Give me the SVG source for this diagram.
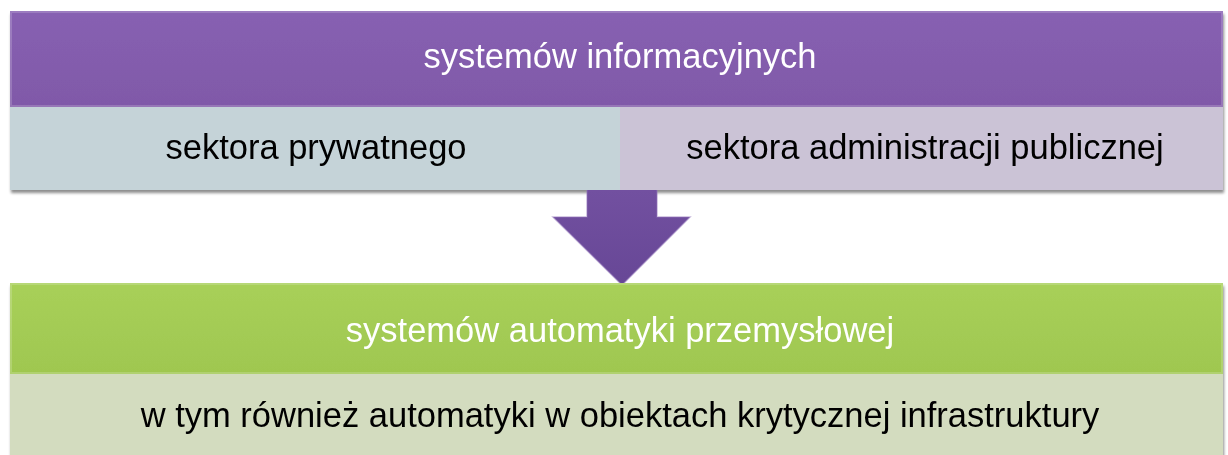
<svg xmlns="http://www.w3.org/2000/svg" width="1228" height="455" viewBox="0 0 1228 455">
  <defs>
    <filter id="shadow" x="-2%" y="-10%" width="104%" height="130%">
      <feGaussianBlur in="SourceAlpha" stdDeviation="1.5"/>
      <feOffset dx="1" dy="3"/>
      <feComponentTransfer><feFuncA type="linear" slope="0.45"/></feComponentTransfer>
      <feMerge><feMergeNode/><feMergeNode in="SourceGraphic"/></feMerge>
    </filter>
    <linearGradient id="purpleFill" x1="0" y1="0" x2="0" y2="1">
      <stop offset="0" stop-color="#8760B2"/>
      <stop offset="1" stop-color="#8059A8"/>
    </linearGradient>
    <linearGradient id="greenFill" x1="0" y1="0" x2="0" y2="1">
      <stop offset="0" stop-color="#A8D059"/>
      <stop offset="1" stop-color="#9FC750"/>
    </linearGradient>
    <linearGradient id="arrowFill" x1="0" y1="0" x2="0" y2="1">
      <stop offset="0" stop-color="#7250A0"/>
      <stop offset="1" stop-color="#674796"/>
    </linearGradient>
  </defs>
  <style>
    text { font-family: "Liberation Sans", Arial, sans-serif; text-anchor: middle; font-size: 34.5px; }
    .head { fill: #FFFFFF; }
    .body { fill: #000000; }
    .bevel { fill: none; stroke: #FFFFFF; stroke-opacity: 0.18; stroke-width: 2; }
  </style>

  <!-- upper block: information systems -->
  <g id="top-block" filter="url(#shadow)">
    <g id="info-systems">
      <rect x="10" y="11" width="1213" height="96" fill="url(#purpleFill)"/>
      <rect class="bevel" x="11" y="12" width="1211" height="94"/>
      <text class="head" x="620" y="68">systemów informacyjnych</text>
    </g>
    <g id="private-sector">
      <rect x="10" y="107" width="610" height="83" fill="#C5D3D8"/>
      <text class="body" x="316" y="159">sektora prywatnego</text>
    </g>
    <g id="public-sector">
      <rect x="620" y="107" width="603" height="83" fill="#CBC3D6"/>
      <text class="body" x="925" y="159">sektora administracji publicznej</text>
    </g>
  </g>

  <!-- connector: downward block arrow -->
  <g id="connectors">
    <path d="M587 190 H657 V217 H690 L622 285 L553 217 H587 Z" fill="url(#arrowFill)"/>
    <path d="M587 190 V217 H553 L622 285 L690 217 H657 V190" fill="none" stroke="#8F72B8" stroke-opacity="0.5" stroke-width="1.5"/>
  </g>

  <!-- lower block: industrial automation systems -->
  <g id="bottom-block" filter="url(#shadow)">
    <g id="automation-systems">
      <rect x="10" y="283" width="1213" height="91" fill="url(#greenFill)"/>
      <rect class="bevel" x="11" y="284" width="1211" height="89"/>
      <text class="head" x="620" y="342">systemów automatyki przemysłowej</text>
    </g>
    <g id="critical-infrastructure">
      <rect x="10" y="374" width="1213" height="85" fill="#D3DCBF"/>
      <text class="body" x="620" y="427">w tym również automatyki w obiektach krytycznej infrastruktury</text>
    </g>
  </g>
</svg>
